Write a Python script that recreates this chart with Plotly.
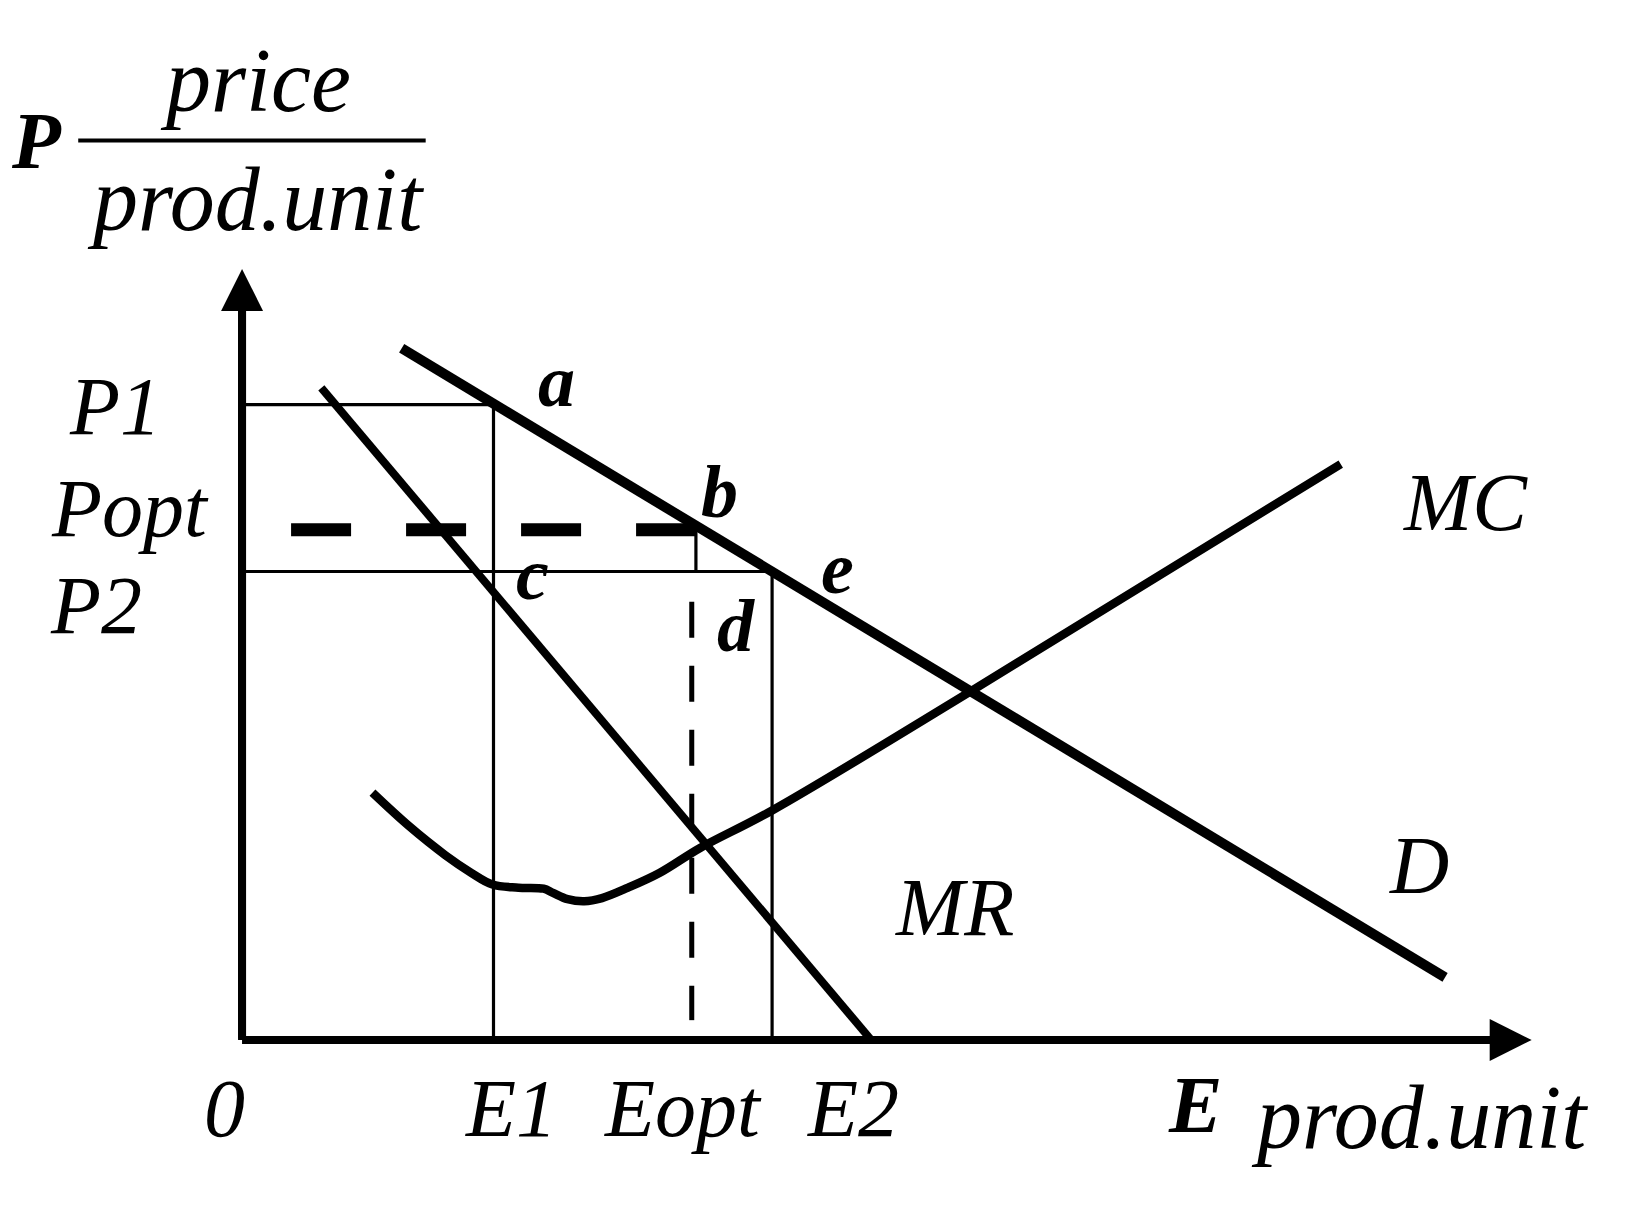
import plotly.graph_objects as go

# economic quantities (x = output E, y = price P)
E1, Eopt, E2 = 2.41, 4.35, 5.08
P1, Popt, P2 = 6.09, 4.89, 4.49

d_x = [1.53, 11.53]
d_y = [6.63, 0.60]
mr_x = [0.76, 6.03]
mr_y = [6.25, 0.0]
mc_x = [1.25, 1.6, 1.95, 2.2, 2.40, 2.65, 2.89, 2.98, 3.12, 3.28, 3.45, 3.7, 4.0, 4.39, 5.08, 7.03, 10.53]
mc_y = [2.37, 2.05, 1.77, 1.6, 1.49, 1.46, 1.45, 1.41, 1.35, 1.33, 1.36, 1.46, 1.6, 1.84, 2.2, 3.37, 5.52]

axis_x_end = 12.36
axis_y_end = 7.39
popt_dash_start = 0.47
eopt_dash_y = [4.2, 0.19]

SERIF = "Liberation Serif, Times New Roman, serif"
BLACK = "#000000"

fig = go.Figure()


def line(x, y, width, dash="solid", shape="linear"):
    fig.add_trace(go.Scatter(x=x, y=y, mode="lines", hoverinfo="skip",
                             line=dict(color=BLACK, width=width, dash=dash, shape=shape)))


# thin guide lines
line([0, E1, E1], [P1, P1, 0], 3.2)
line([0, E2, E2], [P2, P2, 0], 3.2)
line([Eopt, Eopt], [Popt, P2], 3.2)
line([Eopt - 0.04, Eopt - 0.04], eopt_dash_y, 5, dash="36px,28px")
line([popt_dash_start, Eopt], [Popt, Popt], 13, dash="60px,55px")

# curves
line(d_x, d_y, 10)
line(mr_x, mr_y, 8)
line(mc_x, mc_y, 8.5, shape="spline")

# axes
line([0, 0], [0, axis_y_end - 0.3], 8)
line([0, axis_x_end - 0.3], [0, 0], 8)

ann = []
for tx, ty in [(axis_x_end, 0), (0, axis_y_end)]:
    ann.append(dict(x=tx, y=ty, ax=0, ay=0, axref="x", ayref="y", xref="x", yref="y",
                    text="", showarrow=True, arrowhead=2, arrowsize=1.05, arrowwidth=8,
                    arrowcolor=BLACK))


def label(text, x, y, size=82, bold=False):
    t = f"<b><i>{text}</i></b>" if bold else f"<i>{text}</i>"
    ann.append(dict(x=x, y=y, xref="x", yref="y", text=t, showarrow=False,
                    font=dict(family=SERIF, size=size, color=BLACK),
                    xanchor="center", yanchor="middle"))


label("P1", -1.22, P1 - 0.02)
label("Popt", -1.07, Popt + 0.2)
label("P2", -1.40, P2 - 0.33)
label("0", -0.17, -0.66)
label("E1", E1 + 0.17, -0.66)
label("Eopt", Eopt - 0.12, -0.66)
label("E2", E2 + 0.78, -0.66)
label("E", 9.13, -0.62, size=80, bold=True)
label("prod.unit", 11.28, -0.74, size=90)
label("MC", 11.73, 5.15)
label("D", 11.28, 1.67)
label("MR", 6.83, 1.27)
label("a", 3.01, 6.32, size=74, bold=True)
label("b", 4.58, 5.25, size=74, bold=True)
label("c", 2.78, 4.47, size=74, bold=True)
label("e", 5.71, 4.52, size=74, bold=True)
label("d", 4.73, 3.97, size=74, bold=True)
label("P", -1.97, 8.62, size=80, bold=True)
label("price", 0.13, 9.2, size=90)
label("prod.unit", 0.13, 8.06, size=90)

fig.update_layout(
    width=1620, height=1208,
    margin=dict(l=0, r=0, t=0, b=0),
    paper_bgcolor="white", plot_bgcolor="white",
    showlegend=False,
    annotations=ann,
    shapes=[dict(type="line", xref="x", yref="y", x0=-1.57, x1=1.76, y0=8.62, y1=8.62,
                 line=dict(color=BLACK, width=4))],
    xaxis=dict(range=[-2.243, 13.283], visible=False, fixedrange=True),
    yaxis=dict(range=[-1.687, 9.891], visible=False, fixedrange=True),
)

fig.write_html("out.html", config={"displayModeBar": False})
